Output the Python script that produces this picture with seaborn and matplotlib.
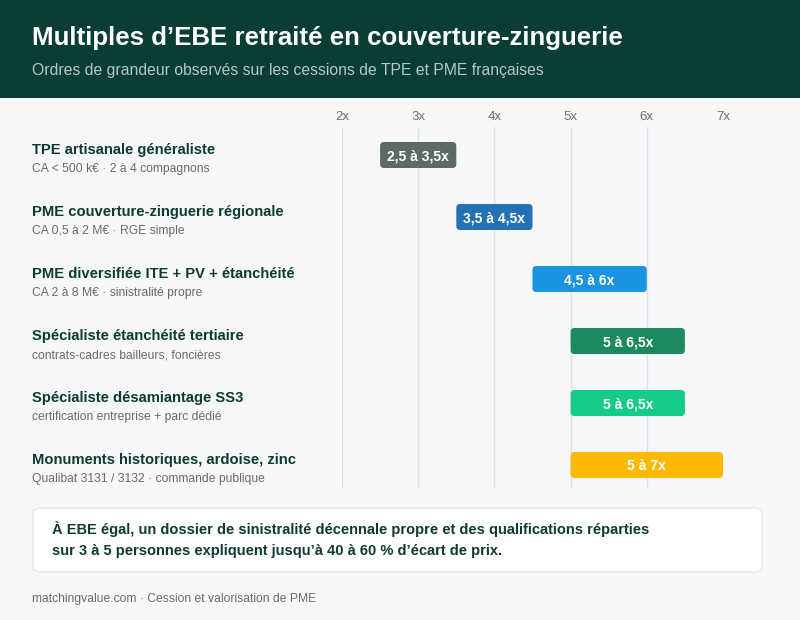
import matplotlib
matplotlib.use("Agg")
import matplotlib.pyplot as plt
import seaborn as sns
import pandas as pd
from matplotlib.patches import FancyBboxPatch, Rectangle
from matplotlib.transforms import blended_transform_factory, offset_copy

# ---- data ----
categories = [
    "TPE artisanale généraliste",
    "PME couverture-zinguerie régionale",
    "PME diversifiée ITE + PV + étanchéité",
    "Spécialiste étanchéité tertiaire",
    "Spécialiste désamiantage SS3",
    "Monuments historiques, ardoise, zinc",
]
subtitles = [
    "CA < 500 k€ · 2 à 4 compagnons",
    "CA 0,5 à 2 M€ · RGE simple",
    "CA 2 à 8 M€ · sinistralité propre",
    "contrats-cadres bailleurs, foncières",
    "certification entreprise + parc dédié",
    "Qualibat 3131 / 3132 · commande publique",
]
low = [2.5, 3.5, 4.5, 5.0, 5.0, 5.0]
high = [3.5, 4.5, 6.0, 6.5, 6.5, 7.0]
bar_labels = ["2,5 à 3,5x", "3,5 à 4,5x", "4,5 à 6x", "5 à 6,5x", "5 à 6,5x", "5 à 7x"]
colors = ["#5d6a66", "#2471b6", "#1a93e0", "#1b8a5f", "#14cc88", "#fbb902"]
tick_values = [2, 3, 4, 5, 6, 7]
tick_labels = ["2x", "3x", "4x", "5x", "6x", "7x"]

title = "Multiples d’EBE retraité en couverture-zinguerie"
subtitle = "Ordres de grandeur observés sur les cessions de TPE et PME françaises"
note_lines = [
    "À EBE égal, un dossier de sinistralité décennale propre et des qualifications réparties",
    "sur 3 à 5 personnes expliquent jusqu’à 40 à 60 % d’écart de prix.",
]
footer = "matchingvalue.com · Cession et valorisation de PME"

# ---- style ----
sns.set_theme(style="white")
plt.rcParams["font.family"] = ["Liberation Sans", "DejaVu Sans"]

W, H = 800, 620
BG = "#f5f7f9"
DARK = "#0b3d37"

fig = plt.figure(figsize=(W / 100, H / 100), dpi=100)
fig.patch.set_facecolor(BG)

# header band
fig.add_artist(Rectangle((0, 1 - 98 / H), 1, 98 / H, transform=fig.transFigure,
                         facecolor=DARK, edgecolor="none", zorder=0))
fig.text(32 / W, 1 - 38 / H, title, color="white", fontsize=18.6, fontweight="bold",
         va="center", ha="left")
fig.text(32 / W, 1 - 71 / H, subtitle, color="#b3c9c3", fontsize=11.3,
         va="center", ha="left")

# axes
ax_left, ax_right, ax_top, ax_bottom = 342, 723, 127, 488
ax = fig.add_axes([ax_left / W, 1 - ax_bottom / H, (ax_right - ax_left) / W,
                   (ax_bottom - ax_top) / H])
ax.set_facecolor("none")

df = pd.DataFrame({"cat": categories, "low": low, "high": high})
sns.barplot(data=df, x="high", y="cat", hue="cat", palette=colors, legend=False,
            orient="h", width=0.42, saturation=1, ax=ax)

row_px = 62.0
ax.set_ylim((ax_bottom - 155) / row_px, (ax_top - 155) / row_px)
ax.set_xlim(2, 7)

# replace bars by rounded floating bars
bars = list(ax.patches)
for p in bars:
    yc = p.get_y() + p.get_height() / 2
    i = int(round(yc))
    h = p.get_height()
    fc = p.get_facecolor()
    p.remove()
    x0 = low[i]
    wdt = high[i] - low[i]
    r = 4 / 76.2
    fb = FancyBboxPatch((x0, yc - h / 2), wdt, h,
                        boxstyle=f"round,pad=0,rounding_size={r}",
                        mutation_aspect=76.2 / row_px,
                        facecolor=fc, edgecolor="none", zorder=3, clip_on=False)
    ax.add_patch(fb)
    ax.text(x0 + wdt / 2, yc, bar_labels[i], color="white", fontsize=10,
            fontweight="bold", ha="center", va="center_baseline", zorder=4)

ax.set_xticks(tick_values)
ax.set_xticklabels(tick_labels)
ax.xaxis.tick_top()
ax.tick_params(axis="x", length=0, pad=3, labelsize=9.5, labelcolor="#6e6e6e")
ax.set_yticks([])
ax.set_xlabel("")
ax.set_ylabel("")
ax.grid(axis="x", color="#dde1e5", linewidth=1)
ax.set_axisbelow(True)
for s in ax.spines.values():
    s.set_visible(False)

# row labels on the left
blend = blended_transform_factory(fig.transFigure, ax.transData)
t_title = offset_copy(blend, fig=fig, y=5, units="dots")
t_sub = offset_copy(blend, fig=fig, y=-14, units="dots")
for i, (c, s) in enumerate(zip(categories, subtitles)):
    ax.text(32 / W, i, c, transform=t_title, fontsize=10.6, fontweight="bold",
            color="#0d3b34", ha="left", va="center", clip_on=False)
    ax.text(32 / W, i, s, transform=t_sub, fontsize=8.7, color="#6b6b6b",
            ha="left", va="center", clip_on=False)

# note box
bx0, by0, bx1, by1 = 33, 508, 762, 572
fig.add_artist(FancyBboxPatch((bx0 / 100, (H - by1) / 100), (bx1 - bx0) / 100,
                              (by1 - by0) / 100,
                              boxstyle="round,pad=0,rounding_size=0.07",
                              transform=fig.dpi_scale_trans,
                              facecolor="white", edgecolor="#e6eaed", linewidth=1))
for k, line in enumerate(note_lines):
    fig.text(52 / W, 1 - (529 + 22 * k) / H, line, fontsize=10.5, fontweight="bold",
             color="#0d3b34", ha="left", va="center")

fig.text(32 / W, 1 - 599 / H, footer, fontsize=8.7, color="#6b6b6b",
         ha="left", va="center")

fig.savefig("out.png", dpi=100, facecolor=BG)
